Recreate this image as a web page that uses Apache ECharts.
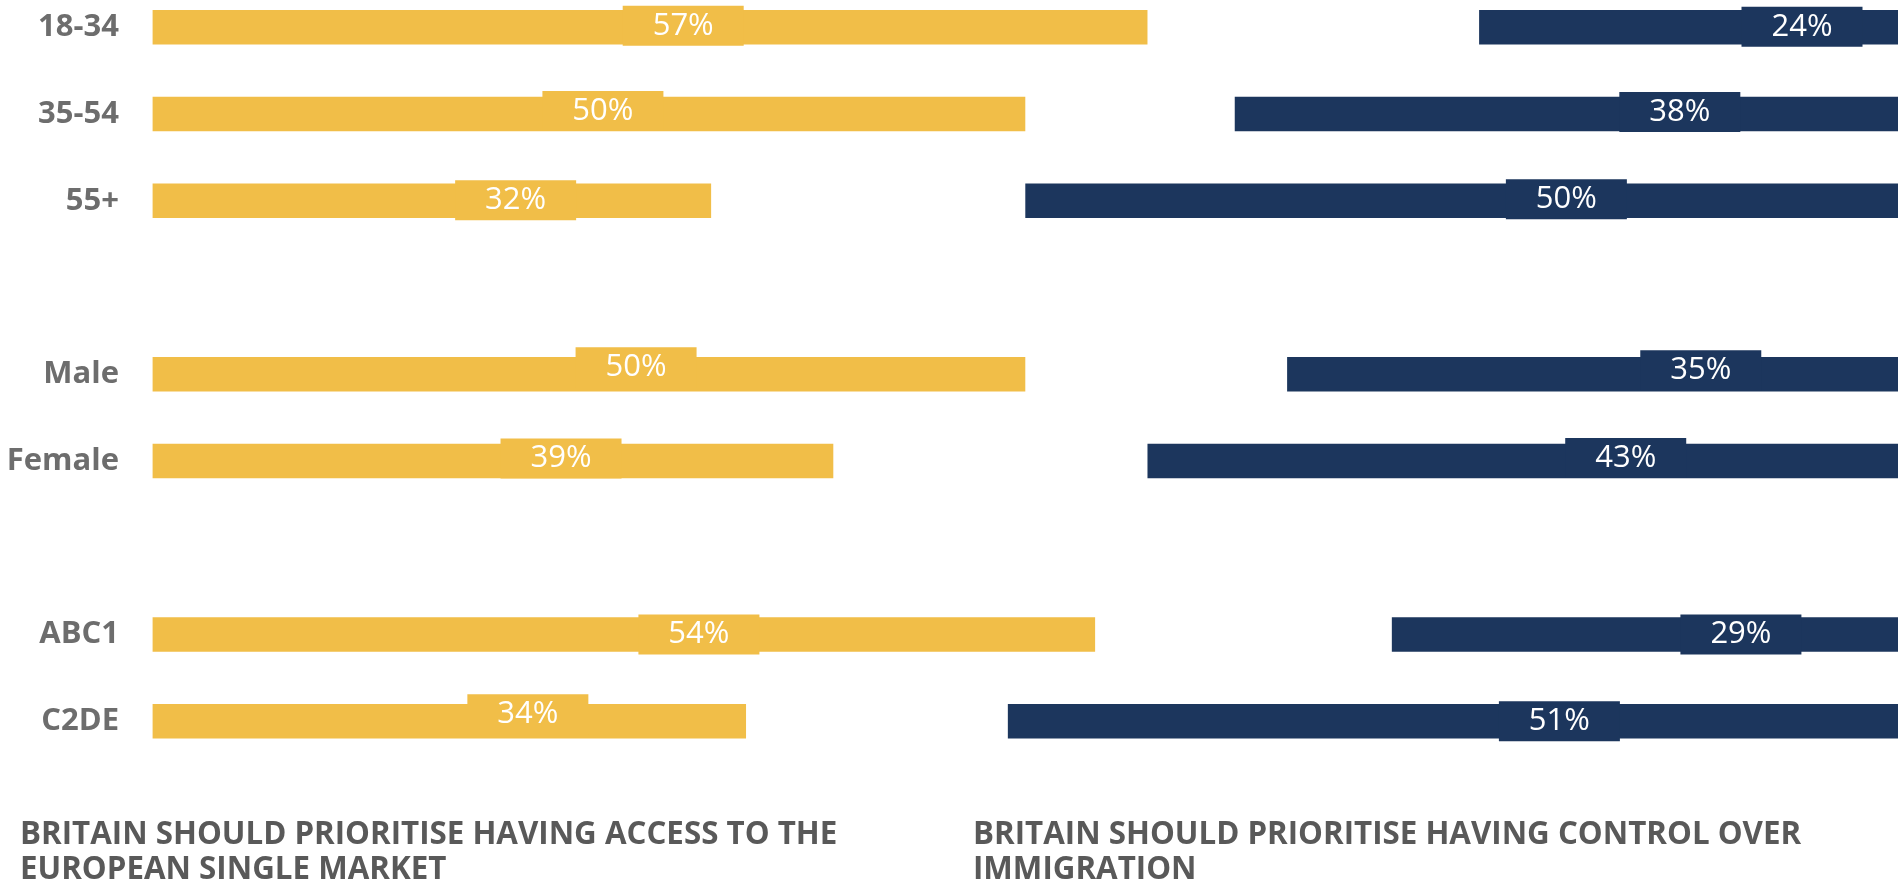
<!DOCTYPE html>
<html><head><meta charset="utf-8">
<style>html,body{margin:0;padding:0;background:#fff}#c{width:1899px;height:883px}</style>
<script src="https://cdn.jsdelivr.net/npm/echarts@6/dist/echarts.min.js"></script>
</head><body><div id="c"></div>
<script>
// ---- data ----
const categories = ['18-34', '35-54', '55+', '', 'Male', 'Female', '', 'ABC1', 'C2DE'];
const marketValues = [57, 50, 32, null, 50, 39, null, 54, 34];
const immigrationValues = [24, 38, 50, null, 35, 43, null, 29, 51];
const titleMarket = 'BRITAIN SHOULD PRIORITISE HAVING ACCESS TO THE\nEUROPEAN SINGLE MARKET';
const titleImmigration = 'BRITAIN SHOULD PRIORITISE HAVING CONTROL OVER\nIMMIGRATION';
// label placement: where the label box sits along each bar (in % units from the bar's base), and a vertical nudge (px)
const marketLabelAt = [30.4, 25.8, 20.8, null, 27.7, 23.4, null, 31.3, 21.5];
const marketLabelLift = [-1.5, -3, -0.5, 0, -7, -2.5, 0, 0, -7];
const immigrationLabelAt = [5.5, 12.5, 19.0, null, 11.3, 15.6, null, 9.0, 19.4];
const immigrationLabelLift = [-0.5, -2, -1.5, 0, -4, -3, 0, 0, 0];

// ---- style ----
const YELLOW = '#F1BE48';
const NAVY = '#1C365D';
const GRID = { left: 152.6, right: 1, top: 27.2, bottom: 161.8 };
const W = 1899;
const k = (W - GRID.left - GRID.right) / 100; // px per percentage point

const chart = echarts.init(document.getElementById('c'), null, { renderer: 'canvas' });

function labelBase(color) {
  return {
    show: true,
    position: 'inside',
    formatter: '{c}%',
    color: '#ffffff',
    fontFamily: 'Open Sans',
    fontSize: 31,
    backgroundColor: color,
    width: 121,
    height: 38,
    lineHeight: 38,
    padding: [2, 0, 0, 0],
    align: 'center',
    verticalAlign: 'middle'
  };
}

const marketData = marketValues.map((v, i) => v == null ? '-' : {
  value: v,
  label: { offset: [(marketLabelAt[i] - v / 2) * k, marketLabelLift[i]] }
});
const immigrationData = immigrationValues.map((v, i) => v == null ? '-' : {
  value: v,
  label: { offset: [(v / 2 - immigrationLabelAt[i]) * k, immigrationLabelLift[i]] }
});

const titleStyle = {
  fontFamily: 'Open Sans',
  fontWeight: 'bold',
  fontSize: 31.3,
  lineHeight: 35.5,
  color: '#595959'
};

chart.setOption({
  animation: false,
  backgroundColor: '#ffffff',
  title: [
    { text: titleMarket, left: 20, top: 817, padding: 0, textStyle: titleStyle },
    { text: titleImmigration, left: 973, top: 817, padding: 0, textStyle: titleStyle }
  ],
  grid: GRID,
  xAxis: [
    { type: 'value', min: 0, max: 100, show: false, splitLine: { show: false } },
    { type: 'value', min: 0, max: 100, inverse: true, show: false, splitLine: { show: false } }
  ],
  yAxis: [
    {
      type: 'category', data: categories, inverse: true, boundaryGap: false,
      axisLine: { show: false }, axisTick: { show: false }, splitLine: { show: false },
      axisLabel: {
        margin: 33.6, color: '#6d6d6d', fontFamily: 'Open Sans', fontWeight: 'bold', fontSize: 31
      }
    },
    {
      type: 'category', data: categories, inverse: true, boundaryGap: false, show: false
    }
  ],
  series: [
    {
      type: 'bar', name: 'Single market', xAxisIndex: 0, yAxisIndex: 0,
      data: marketData, barWidth: 34.5,
      itemStyle: { color: YELLOW },
      label: labelBase(YELLOW)
    },
    {
      type: 'bar', name: 'Immigration', xAxisIndex: 1, yAxisIndex: 1,
      data: immigrationData, barWidth: 34.5,
      itemStyle: { color: NAVY },
      label: labelBase(NAVY)
    }
  ]
});
</script>
</body></html>
